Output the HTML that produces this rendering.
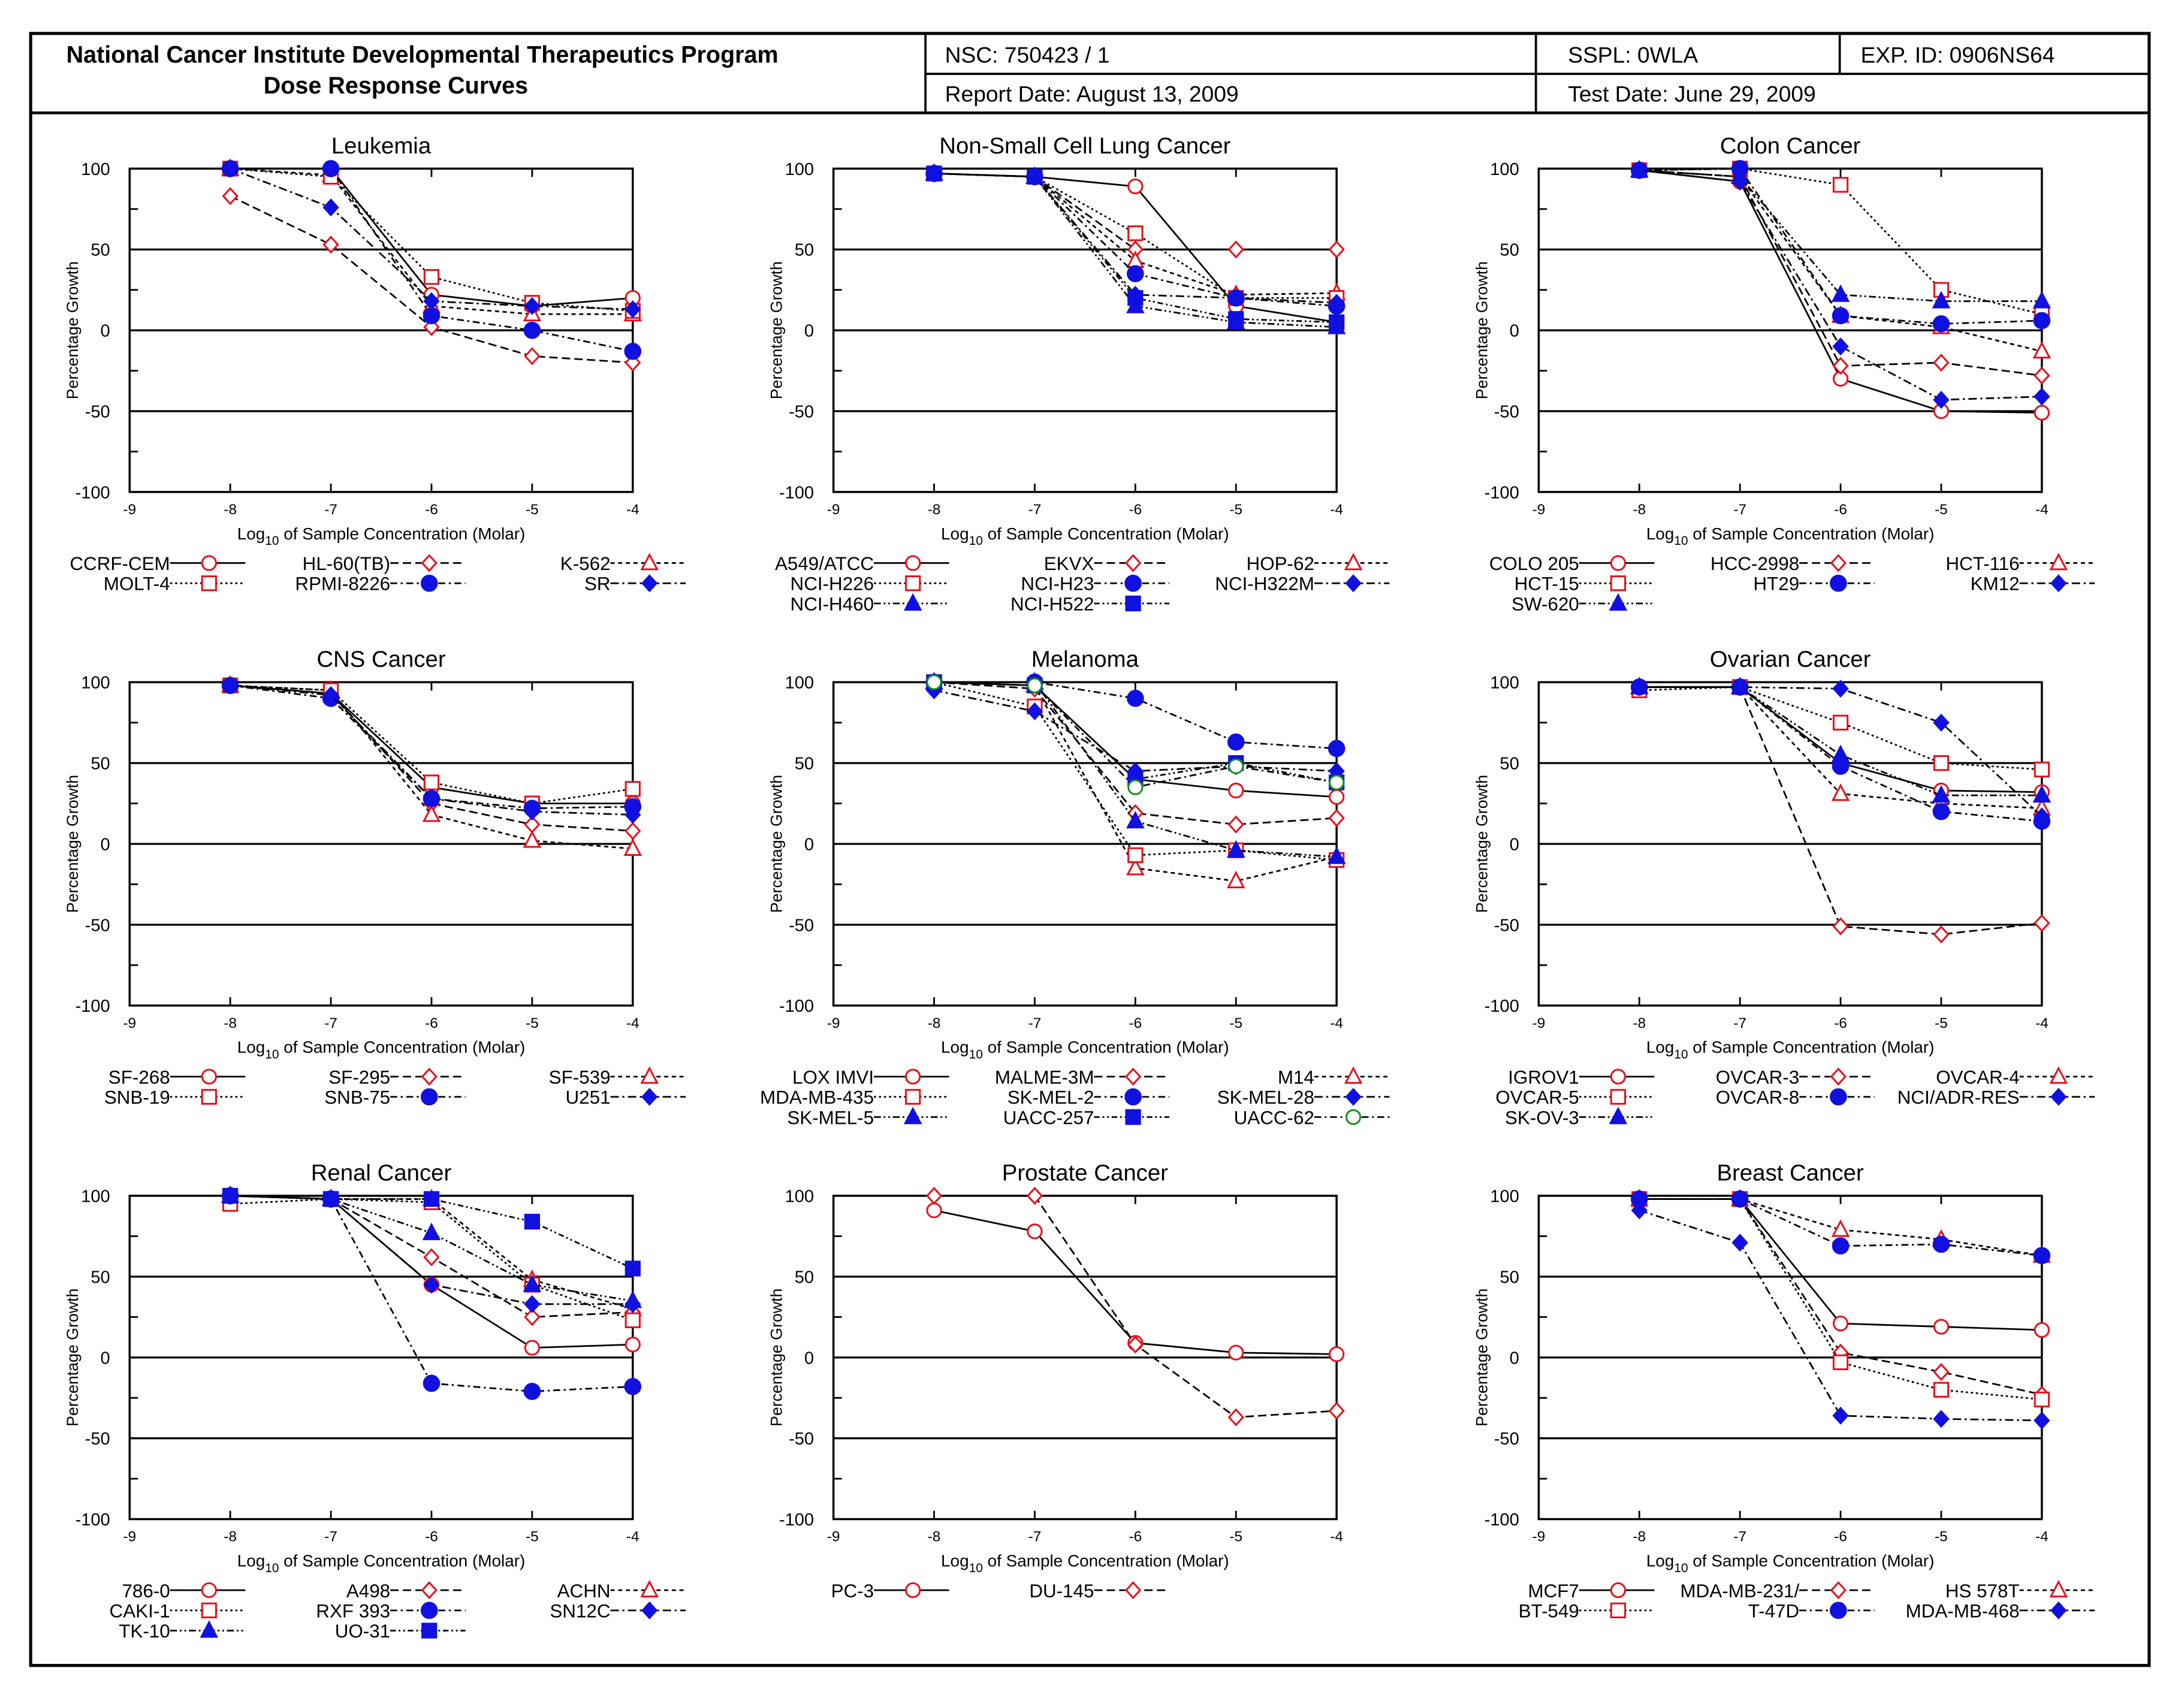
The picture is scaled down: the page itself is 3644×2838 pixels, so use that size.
<!DOCTYPE html>
<html><head><meta charset="utf-8"><style>
html,body{margin:0;padding:0;background:#fff}
svg{display:block}
text{font-family:"Liberation Sans",Arial,sans-serif}
</style></head><body>
<svg id="root" width="3644" height="2838" viewBox="0 0 1567 1220.5" preserveAspectRatio="none" xmlns="http://www.w3.org/2000/svg">
<g fill="none" stroke="#000">
<rect x="22" y="24" width="1520" height="1171" stroke-width="2.2"/>
<line x1="22" y1="81" x2="1542" y2="81" stroke-width="2"/>
<line x1="664" y1="53" x2="1542" y2="53" stroke-width="1.6"/>
<line x1="664" y1="24" x2="664" y2="81" stroke-width="1.6"/>
<line x1="1102" y1="24" x2="1102" y2="81" stroke-width="1.6"/>
<line x1="1320" y1="24" x2="1320" y2="53" stroke-width="1.6"/>
</g>
<text x="303" y="45" text-anchor="middle" font-size="17" font-weight="bold">National Cancer Institute Developmental Therapeutics Program</text>
<text x="284" y="67" text-anchor="middle" font-size="17" font-weight="bold">Dose Response Curves</text>
<text x="678" y="45" font-size="16">NSC: 750423 / 1</text>
<text x="1125" y="45" font-size="16">SSPL: 0WLA</text>
<text x="1335" y="45" font-size="16">EXP. ID: 0906NS64</text>
<text x="678" y="73" font-size="16">Report Date: August 13, 2009</text>
<text x="1125" y="73" font-size="16">Test Date: June 29, 2009</text>
<g id="panels"></g>
</svg>
<script>
const xTicks = [-9,-8,-7,-6,-5,-4];
const yTicks = [100,50,0,-50,-100];
const concentrations = [-8,-7,-6,-5,-4];
const panelTitles = ["Leukemia","Non-Small Cell Lung Cancer","Colon Cancer","CNS Cancer","Melanoma","Ovarian Cancer","Renal Cancer","Prostate Cancer","Breast Cancer"];
const leukemiaNames = ["CCRF-CEM","HL-60(TB)","K-562","MOLT-4","RPMI-8226","SR"];
const leukemiaValues = [[100,100,22,15,20],[83,53,2,-16,-20],[100,96,15,10,10],[100,95,33,17,12],[100,100,9,0,-13],[100,76,18,15,13]];
const nsclcNames = ["A549/ATCC","EKVX","HOP-62","NCI-H226","NCI-H23","NCI-H322M","NCI-H460","NCI-H522"];
const nsclcValues = [[97,95,89,15,5],[97,95,50,50,50],[97,95,43,22,23],[97,95,60,20,20],[97,95,35,20,15],[97,95,22,20,17],[97,95,15,5,2],[97,95,20,7,5]];
const colonNames = ["COLO 205","HCC-2998","HCT-116","HCT-15","HT29","KM12","SW-620"];
const colonValues = [[99,92,-30,-50,-51],[99,95,-22,-20,-28],[99,95,9,2,-13],[99,100,90,25,10],[99,100,9,4,6],[99,92,-10,-43,-41],[99,95,22,18,18]];
const cnsNames = ["SF-268","SF-295","SF-539","SNB-19","SNB-75","U251"];
const cnsValues = [[98,93,35,25,25],[98,93,25,12,8],[98,95,18,2,-3],[98,95,38,25,34],[98,90,28,22,23],[98,92,28,20,18]];
const melanomaNames = ["LOX IMVI","MALME-3M","M14","MDA-MB-435","SK-MEL-2","SK-MEL-28","SK-MEL-5","UACC-257","UACC-62"];
const melanomaValues = [[100,98,40,33,29],[100,96,19,12,16],[100,98,-15,-23,-8],[100,85,-7,-4,-10],[100,100,90,63,59],[95,82,45,48,45],[100,100,14,-4,-8],[100,98,40,50,38],[100,98,35,48,38]];
const ovarianNames = ["IGROV1","OVCAR-3","OVCAR-4","OVCAR-5","OVCAR-8","NCI/ADR-RES","SK-OV-3"];
const ovarianValues = [[97,97,50,33,32],[97,97,-51,-56,-49],[97,97,31,25,22],[95,97,75,50,46],[97,97,48,20,14],[97,97,96,75,17],[97,97,55,30,30]];
const renalNames = ["786-0","A498","ACHN","CAKI-1","RXF 393","SN12C","TK-10","UO-31"];
const renalValues = [[100,98,45,6,8],[100,98,62,25,28],[100,98,98,48,30],[95,98,96,45,23],[100,98,-16,-21,-18],[100,98,45,33,33],[100,98,77,45,35],[100,98,98,84,55]];
const prostateNames = ["PC-3","DU-145"];
const prostateValues = [[91,78,9,3,2],[100,100,8,-37,-33]];
const breastNames = ["MCF7","MDA-MB-231/","HS 578T","BT-549","T-47D","MDA-MB-468"];
const breastValues = [[98,98,21,19,17],[98,98,3,-9,-23],[98,98,79,73,63],[98,98,-3,-20,-26],[98,98,69,70,63],[91,71,-36,-38,-39]];

const panelNames=[leukemiaNames,nsclcNames,colonNames,cnsNames,melanomaNames,ovarianNames,renalNames,prostateNames,breastNames];
const panelValues=[leukemiaValues,nsclcValues,colonValues,cnsValues,melanomaValues,ovarianValues,renalValues,prostateValues,breastValues];

const NS="http://www.w3.org/2000/svg";
const styles=[
 {c:"#e8101a",d:"",m:"circle",f:false},
 {c:"#e8101a",d:"6,3",m:"diamond",f:false},
 {c:"#e8101a",d:"3,2.5",m:"triangle",f:false},
 {c:"#e8101a",d:"1.6,2",m:"square",f:false},
 {c:"#1010e0",d:"5,2.5,1.5,2.5",m:"circle",f:true},
 {c:"#1010e0",d:"6,2.5,1.5,2.5",m:"diamond",f:true},
 {c:"#1010e0",d:"5,2,1.3,2,1.3,2",m:"triangle",f:true},
 {c:"#1010e0",d:"4,2,1.3,2,1.3,2",m:"square",f:true},
 {c:"#12901a",d:"5,2.5,1.3,2.5",m:"circle",f:false}
];
function el(tag,attrs,parent){const e=document.createElementNS(NS,tag);for(const k in attrs)e.setAttribute(k,attrs[k]);parent.appendChild(e);return e;}
function marker(g,x,y,st){
 const a={fill:st.f?st.c:"#fff",stroke:st.c,"stroke-width":1.3};
 let m;
 if(st.m==="circle"){a.cx=x;a.cy=y;a.r=st.f?5.5:5;m=el("circle",a,g);}
 else if(st.m==="square"){a.x=x-5;a.y=y-5;a.width=10;a.height=10;m=el("rect",a,g);}
 else if(st.m==="diamond"){a.points=`${x},${y-5.5} ${x+5},${y} ${x},${y+5.5} ${x-5},${y}`;m=el("polygon",a,g);}
 else {a.points=`${x},${y-6} ${x+5.5},${y+4.5} ${x-5.5},${y+4.5}`;m=el("polygon",a,g);}
 return m;
}
const colX=[93,598,1104], rowY=[121,489.5,858];
const PW=361, PH=232;
const root=document.getElementById("panels");
for(let p=0;p<9;p++){
 const L=colX[p%3], T=rowY[Math.floor(p/3)];
 const sx=v=>L+(v+9)/5*PW, sy=v=>T+(100-v)/200*PH;
 const g=el("g",{},root);
 
 
 const t=el("text",{x:L+PW/2,y:T-11,"text-anchor":"middle","font-size":16.5},g);t.textContent=panelTitles[p];
 
 
 [50,0,-50].forEach(v=>{const l=el("line",{x1:L,x2:L+PW,y1:sy(v),y2:sy(v),stroke:"#000","stroke-width":1.4},g);
  
  });
 [75,25,-25,-75].forEach(v=>el("line",{x1:L,x2:L+6,y1:sy(v),y2:sy(v),stroke:"#000","stroke-width":1.2},g));
 xTicks.forEach(v=>{el("line",{x1:sx(v),x2:sx(v),y1:T,y2:T+6,stroke:"#000","stroke-width":1.2},g);el("line",{x1:sx(v),x2:sx(v),y1:T+PH,y2:T+PH-6,stroke:"#000","stroke-width":1.2},g);
  const tx=el("text",{x:sx(v),y:T+PH+16,"text-anchor":"middle","font-size":10.5},g);tx.textContent=v;
  
  });
 yTicks.forEach(v=>{const tx=el("text",{x:L-14,y:sy(v)+4.5,"text-anchor":"end","font-size":12.5},g);tx.textContent=v;
  
  });
 const fr=el("rect",{x:L,y:T,width:PW,height:PH,fill:"none",stroke:"#000","stroke-width":1.5},g);
 
 
 const yt=el("text",{x:0,y:0,"text-anchor":"middle","font-size":11.5,transform:`translate(${L-37},${T+PH/2}) rotate(-90)`},g);yt.textContent="Percentage Growth";
 
 
 const xt=el("text",{x:L+PW/2,y:T+PH+34,"text-anchor":"middle","font-size":12},g);
 
 
 xt.innerHTML='Log<tspan font-size="9" dy="4">10</tspan><tspan dy="-4"> of Sample Concentration (Molar)</tspan>';
 const names=panelNames[p], vals=panelValues[p];
 vals.forEach((row,i)=>{
  const st=styles[i];
  const s=el("g",{},g);
  
  
  const pts=row.map((v,j)=>sx(concentrations[j])+","+sy(v)).join(" ");
  el("polyline",{points:pts,fill:"none",stroke:"#000","stroke-width":1.2,"stroke-dasharray":st.d},s);
  row.forEach((v,j)=>{const m=marker(s,sx(concentrations[j]),sy(v),st);
   
   });
  const c=i%3, r=Math.floor(i/3);
  const nx=L+[29,187,345][c], ly=T+PH+51+r*14.5;
  const lg=el("g",{},g);
  
  
  const lt=el("text",{x:nx,y:ly+5,"text-anchor":"end","font-size":13.5},lg);lt.textContent=names[i];
  el("line",{x1:nx,x2:nx+54,y1:ly,y2:ly,stroke:"#000","stroke-width":1.2,"stroke-dasharray":st.d},lg);
  marker(lg,nx+28,ly,st);
 });
}
</script>
</body></html>
